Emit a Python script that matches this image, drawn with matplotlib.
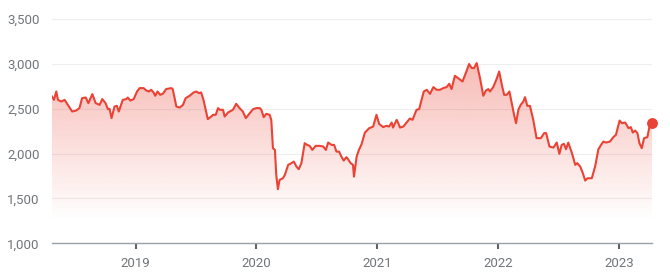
import numpy as np
import pandas as pd
import matplotlib
matplotlib.use("Agg")
import matplotlib.pyplot as plt
import matplotlib.dates as mdates
from matplotlib.patches import Polygon
from matplotlib.ticker import FuncFormatter

plt.rcParams['font.family'] = ['Roboto', 'DejaVu Sans']

# price history
dates = [
    "2018-04-23", "2018-04-29", "2018-05-06", "2018-05-11", "2018-05-21", "2018-05-31",
    "2018-06-10", "2018-06-23", "2018-07-05", "2018-07-15", "2018-07-23", "2018-08-03",
    "2018-08-11", "2018-08-23", "2018-09-02", "2018-09-14", "2018-09-22", "2018-10-02",
    "2018-10-09", "2018-10-14", "2018-10-20", "2018-10-29", "2018-11-05", "2018-11-11",
    "2018-11-23", "2018-12-04", "2018-12-08", "2018-12-16", "2018-12-26",
    "2019-01-05", "2019-01-13", "2019-01-25", "2019-02-02", "2019-02-10", "2019-02-17",
    "2019-02-24", "2019-03-01", "2019-03-08", "2019-03-16", "2019-03-24", "2019-04-03",
    "2019-04-19", "2019-04-23", "2019-05-04", "2019-05-14", "2019-05-24", "2019-06-01",
    "2019-06-13", "2019-06-25", "2019-07-03", "2019-07-11", "2019-07-18", "2019-07-25",
    "2019-08-07", "2019-08-15", "2019-08-23", "2019-08-31", "2019-09-07", "2019-09-12",
    "2019-09-22", "2019-09-27", "2019-10-07", "2019-10-22", "2019-11-01", "2019-11-11",
    "2019-11-21", "2019-11-30", "2019-12-12", "2019-12-22",
    "2020-01-01", "2020-01-11", "2020-01-16", "2020-01-23", "2020-01-31", "2020-02-10",
    "2020-02-15", "2020-02-20", "2020-02-26", "2020-03-01", "2020-03-06", "2020-03-11",
    "2020-03-21", "2020-03-27", "2020-04-06", "2020-04-16", "2020-04-23", "2020-05-01",
    "2020-05-08", "2020-05-16", "2020-05-26", "2020-06-02", "2020-06-10", "2020-06-18",
    "2020-06-28", "2020-07-11", "2020-07-21", "2020-07-29", "2020-08-05", "2020-08-15",
    "2020-08-23", "2020-08-30", "2020-09-07", "2020-09-14", "2020-09-21", "2020-09-29",
    "2020-10-04", "2020-10-12", "2020-10-19", "2020-10-22", "2020-10-30", "2020-11-06",
    "2020-11-14", "2020-11-24", "2020-12-07", "2020-12-19", "2020-12-29",
    "2021-01-06", "2021-01-18", "2021-01-28", "2021-02-05", "2021-02-13", "2021-02-17",
    "2021-02-28", "2021-03-05", "2021-03-10", "2021-03-20", "2021-03-30", "2021-04-09",
    "2021-04-17", "2021-04-29", "2021-05-07", "2021-05-21", "2021-05-30", "2021-06-09",
    "2021-06-19", "2021-06-29", "2021-07-09", "2021-07-19", "2021-07-29", "2021-08-06",
    "2021-08-13", "2021-08-23", "2021-09-02", "2021-09-15", "2021-09-25", "2021-10-05",
    "2021-10-13", "2021-10-20", "2021-10-28", "2021-11-07", "2021-11-17", "2021-11-25",
    "2021-12-02", "2021-12-07", "2021-12-17", "2021-12-27",
    "2022-01-04", "2022-01-12", "2022-01-19", "2022-01-27", "2022-02-04", "2022-02-11",
    "2022-02-18", "2022-02-24", "2022-03-03", "2022-03-10", "2022-03-18", "2022-03-23",
    "2022-03-30", "2022-04-07", "2022-04-17", "2022-04-27", "2022-05-10", "2022-05-20",
    "2022-05-26", "2022-06-05", "2022-06-17", "2022-06-27", "2022-07-05", "2022-07-12",
    "2022-07-19", "2022-07-25", "2022-08-01", "2022-08-12", "2022-08-22", "2022-08-28",
    "2022-09-06", "2022-09-14", "2022-09-21", "2022-09-28", "2022-10-11", "2022-10-21",
    "2022-10-31", "2022-11-08", "2022-11-15", "2022-11-23", "2022-12-05", "2022-12-15",
    "2022-12-23",
    "2023-01-03", "2023-01-10", "2023-01-20", "2023-01-30", "2023-02-06", "2023-02-12",
    "2023-02-19", "2023-02-26", "2023-03-04", "2023-03-11", "2023-03-18", "2023-03-28",
    "2023-04-05", "2023-04-11",
]
prices = [
    2636, 2599, 2692, 2599, 2580, 2599,
    2543, 2469, 2480, 2507, 2618, 2625,
    2562, 2663, 2562, 2543, 2607, 2562,
    2495, 2499, 2395, 2524, 2532, 2469,
    2599, 2607, 2625, 2591, 2607,
    2692, 2730, 2730, 2703, 2692, 2711,
    2681, 2644, 2692, 2655, 2666, 2719,
    2730, 2719, 2524, 2513, 2543, 2618,
    2644, 2681, 2692, 2674, 2681, 2599,
    2384, 2406, 2432, 2432, 2507, 2488,
    2488, 2413, 2458, 2488, 2555, 2507,
    2469, 2395, 2451, 2495,
    2507, 2507, 2488, 2406, 2443, 2432,
    2376, 2060, 2041, 1762, 1603, 1706,
    1725, 1762, 1874, 1893, 1911, 1855,
    1826, 1893, 2116, 2097, 2086, 2041,
    2086, 2086, 2078, 2041, 2123, 2097,
    2097, 2022, 2022, 1966, 1922, 1960,
    1937, 1893, 1874, 1743, 1966, 2041,
    2105, 2234, 2283, 2301, 2432,
    2331, 2295, 2309, 2301, 2346, 2290,
    2376, 2339, 2290, 2301, 2346, 2391,
    2376, 2488, 2495, 2692, 2711, 2666,
    2741, 2711, 2711, 2730, 2741, 2778,
    2719, 2867, 2841, 2803, 2897, 2998,
    2953, 2953, 3009, 2841, 2644, 2703,
    2719, 2692, 2741, 2830,
    2915, 2767, 2655, 2655, 2692, 2562,
    2432, 2339, 2488, 2543, 2580, 2629,
    2532, 2532, 2376, 2172, 2172, 2228,
    2228, 2078, 2067, 2123, 1997, 2097,
    2108, 2049, 2123, 2004, 1874, 1893,
    1855, 1781, 1699, 1725, 1725, 1855,
    2049, 2097, 2134, 2123, 2134, 2183,
    2209,
    2368, 2339, 2346, 2283, 2295, 2234,
    2257, 2228, 2116, 2060, 2172, 2183,
    2331, 2346,
]
y_ticks = [1000, 1500, 2000, 2500, 3000, 3500]
year_ticks = ["2019-01-01", "2020-01-01", "2021-01-01", "2022-01-01", "2023-01-01"]

x = mdates.date2num(pd.to_datetime(dates))
y = np.array(prices, dtype=float)

red = '#ea4335'
grey = '#70757a'

fig = plt.figure(figsize=(6.70, 2.79), dpi=100)
ax = fig.add_axes([52/670, (279-243.3)/279, 600/670, (243.3-19)/279])

ax.set_xlim(x[0], x[-1])
ax.set_ylim(1000, 3500)

# gradient fill under the line
grad = np.zeros((256, 2, 4))
rgb = matplotlib.colors.to_rgb(red)
grad[..., 0], grad[..., 1], grad[..., 2] = rgb
lev = np.linspace(1000, 3500, 256)
alpha = np.clip((lev - 1250) / (3000 - 1250), 0, 1) * 0.36
grad[..., 3] = alpha[:, None]
im = ax.imshow(grad, extent=[x[0], x[-1], 1000, 3500], origin='lower',
               aspect='auto', interpolation='bilinear', zorder=1)
poly = Polygon(np.column_stack([np.r_[x[0], x, x[-1]], np.r_[1000, y, 1000]]),
               closed=True, facecolor='none', edgecolor='none')
ax.add_patch(poly)
im.set_clip_path(poly)

ax.plot(x, y, color=red, lw=1.5, zorder=3, solid_joinstyle='round')
ax.plot(x[-1], y[-1], 'o', color=red, ms=6.8, zorder=4, clip_on=False)

# grid
for t in y_ticks[1:]:
    ax.axhline(t, color='#eeeeee', lw=0.8, zorder=0)

ax.set_yticks(y_ticks)
ax.yaxis.set_major_formatter(FuncFormatter(lambda v, p: f"{int(v):,}"))
ax.set_xticks(mdates.date2num(pd.to_datetime(year_ticks)))
ax.xaxis.set_major_formatter(mdates.DateFormatter('%Y'))

for s in ['top', 'right', 'left']:
    ax.spines[s].set_visible(False)
ax.spines['bottom'].set_color('#9aa0a6')
ax.spines['bottom'].set_linewidth(1)

ax.tick_params(axis='y', length=0, pad=9, labelsize=9.5, labelcolor=grey)
ax.tick_params(axis='x', length=4, width=1.5, color='#5f6368', pad=6,
               labelsize=9.5, labelcolor=grey)

fig.savefig('out.png', dpi=100)
